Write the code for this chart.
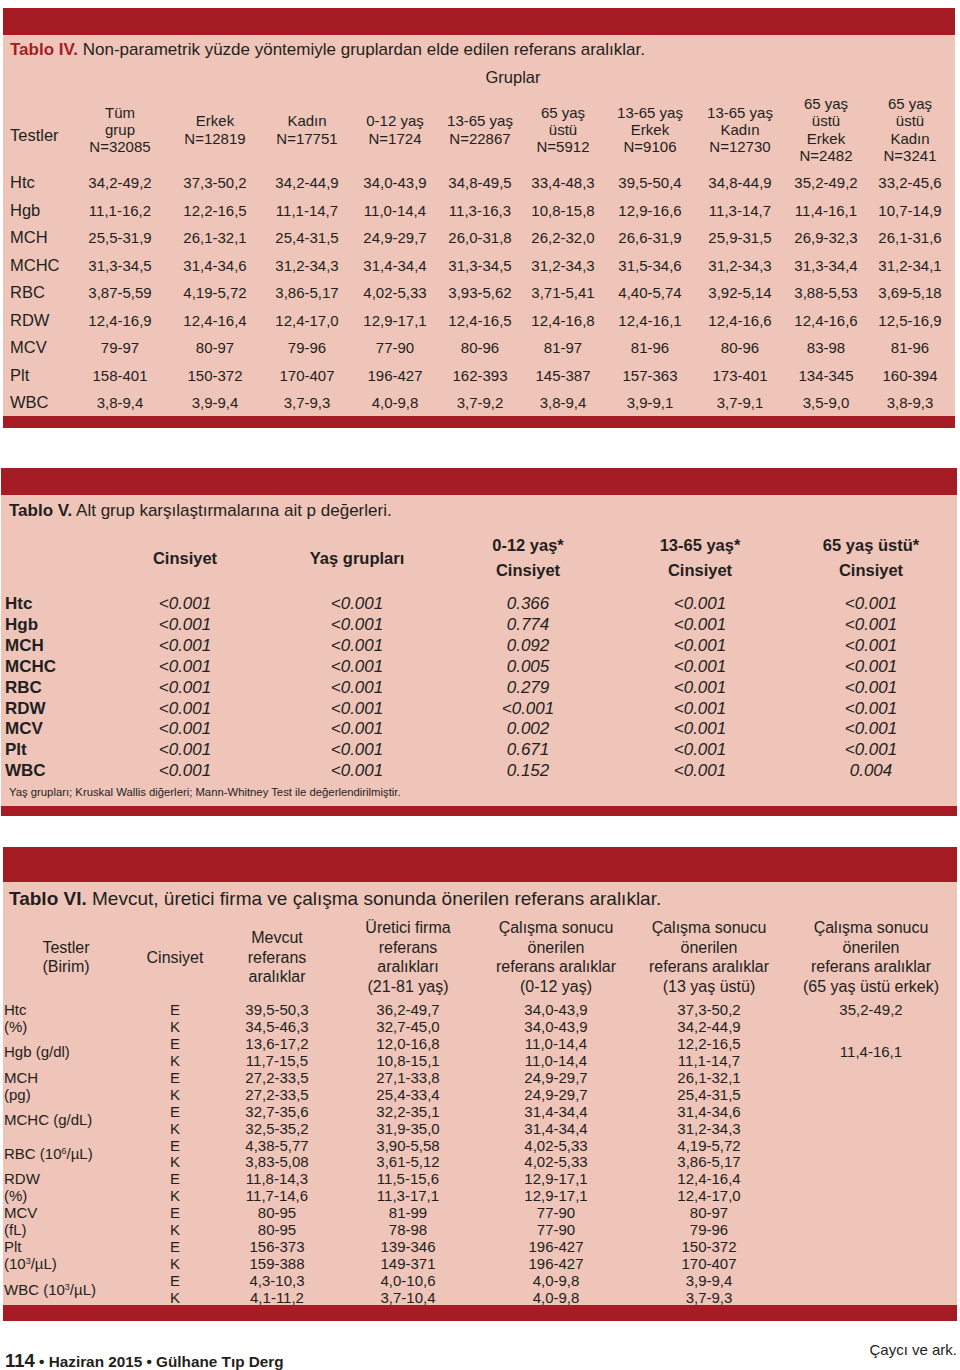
<!DOCTYPE html>
<html>
<head>
<meta charset="utf-8">
<script src="https://cdn.jsdelivr.net/npm/chart.js@4"></script>
<style>
  html, body { margin: 0; padding: 0; background: #fff; }
  body { width: 960px; height: 1370px; position: relative; overflow: hidden;
         font-family: "Liberation Sans", Arial, Helvetica, sans-serif; color: #231f20; }
  .box { position: absolute; }
  .red { background: #a61c24; }
  .pink { background: #efc5ba; }
  .t { position: absolute; white-space: nowrap; line-height: 1; }
  sup { font-size: 0.6em; vertical-align: 0.5em; line-height: 0; }
</style>
</head>
<body>
<script>
// ---- Tablo IV data ----
const testsIV = ['Htc', 'Hgb', 'MCH', 'MCHC', 'RBC', 'RDW', 'MCV', 'Plt', 'WBC'];
const groupHeadersIV = [
  ['Tüm', 'grup', 'N=32085'], ['Erkek', 'N=12819'], ['Kadın', 'N=17751'], ['0-12 yaş', 'N=1724'],
  ['13-65 yaş', 'N=22867'], ['65 yaş', 'üstü', 'N=5912'], ['13-65 yaş', 'Erkek', 'N=9106'],
  ['13-65 yaş', 'Kadın', 'N=12730'], ['65 yaş', 'üstü', 'Erkek', 'N=2482'], ['65 yaş', 'üstü', 'Kadın', 'N=3241']
];
const htcIV  = ['34,2-49,2', '37,3-50,2', '34,2-44,9', '34,0-43,9', '34,8-49,5', '33,4-48,3', '39,5-50,4', '34,8-44,9', '35,2-49,2', '33,2-45,6'];
const hgbIV  = ['11,1-16,2', '12,2-16,5', '11,1-14,7', '11,0-14,4', '11,3-16,3', '10,8-15,8', '12,9-16,6', '11,3-14,7', '11,4-16,1', '10,7-14,9'];
const mchIV  = ['25,5-31,9', '26,1-32,1', '25,4-31,5', '24,9-29,7', '26,0-31,8', '26,2-32,0', '26,6-31,9', '25,9-31,5', '26,9-32,3', '26,1-31,6'];
const mchcIV = ['31,3-34,5', '31,4-34,6', '31,2-34,3', '31,4-34,4', '31,3-34,5', '31,2-34,3', '31,5-34,6', '31,2-34,3', '31,3-34,4', '31,2-34,1'];
const rbcIV  = ['3,87-5,59', '4,19-5,72', '3,86-5,17', '4,02-5,33', '3,93-5,62', '3,71-5,41', '4,40-5,74', '3,92-5,14', '3,88-5,53', '3,69-5,18'];
const rdwIV  = ['12,4-16,9', '12,4-16,4', '12,4-17,0', '12,9-17,1', '12,4-16,5', '12,4-16,8', '12,4-16,1', '12,4-16,6', '12,4-16,6', '12,5-16,9'];
const mcvIV  = ['79-97', '80-97', '79-96', '77-90', '80-96', '81-97', '81-96', '80-96', '83-98', '81-96'];
const pltIV  = ['158-401', '150-372', '170-407', '196-427', '162-393', '145-387', '157-363', '173-401', '134-345', '160-394'];
const wbcIV  = ['3,8-9,4', '3,9-9,4', '3,7-9,3', '4,0-9,8', '3,7-9,2', '3,8-9,4', '3,9-9,1', '3,7-9,1', '3,5-9,0', '3,8-9,3'];
const rowsIV = [htcIV, hgbIV, mchIV, mchcIV, rbcIV, rdwIV, mcvIV, pltIV, wbcIV];

// ---- Tablo V data ----
const headersV = [['Cinsiyet'], ['Yaş grupları'], ['0-12 yaş*', 'Cinsiyet'], ['13-65 yaş*', 'Cinsiyet'], ['65 yaş üstü*', 'Cinsiyet']];
const pSex   = ['<0.001', '<0.001', '<0.001', '<0.001', '<0.001', '<0.001', '<0.001', '<0.001', '<0.001'];
const pAge   = ['<0.001', '<0.001', '<0.001', '<0.001', '<0.001', '<0.001', '<0.001', '<0.001', '<0.001'];
const p0to12 = ['0.366', '0.774', '0.092', '0.005', '0.279', '<0.001', '0.002', '0.671', '0.152'];
const p13to65 = ['<0.001', '<0.001', '<0.001', '<0.001', '<0.001', '<0.001', '<0.001', '<0.001', '<0.001'];
const p65up  = ['<0.001', '<0.001', '<0.001', '<0.001', '<0.001', '<0.001', '<0.001', '<0.001', '0.004'];
const colsV = [pSex, pAge, p0to12, p13to65, p65up];

// ---- Tablo VI data ----
const headersVI = [
  ['Testler', '(Birim)'], ['Cinsiyet'], ['Mevcut', 'referans', 'aralıklar'],
  ['Üretici firma', 'referans', 'aralıkları', '(21-81 yaş)'],
  ['Çalışma sonucu', 'önerilen', 'referans aralıklar', '(0-12 yaş)'],
  ['Çalışma sonucu', 'önerilen', 'referans aralıklar', '(13 yaş üstü)'],
  ['Çalışma sonucu', 'önerilen', 'referans aralıklar', '(65 yaş üstü erkek)']
];
// label text, row index (fractional = between two rows)
const labelsVI = [
  ['Htc', 0], ['(%)', 1], ['Hgb (g/dl)', 2.5], ['MCH', 4], ['(pg)', 5], ['MCHC (g/dL)', 6.5],
  ['RBC (10<sup>6</sup>/µL)', 8.5], ['RDW', 10], ['(%)', 11], ['MCV', 12], ['(fL)', 13],
  ['Plt', 14], ['(10<sup>3</sup>/µL)', 15], ['WBC (10<sup>3</sup>/µL)', 16.5]
];
const sexVI = ['E', 'K', 'E', 'K', 'E', 'K', 'E', 'K', 'E', 'K', 'E', 'K', 'E', 'K', 'E', 'K', 'E', 'K'];
const currentVI = ['39,5-50,3', '34,5-46,3', '13,6-17,2', '11,7-15,5', '27,2-33,5', '27,2-33,5', '32,7-35,6', '32,5-35,2', '4,38-5,77',
                   '3,83-5,08', '11,8-14,3', '11,7-14,6', '80-95', '80-95', '156-373', '159-388', '4,3-10,3', '4,1-11,2'];
const makerVI = ['36,2-49,7', '32,7-45,0', '12,0-16,8', '10,8-15,1', '27,1-33,8', '25,4-33,4', '32,2-35,1', '31,9-35,0', '3,90-5,58',
                 '3,61-5,12', '11,5-15,6', '11,3-17,1', '81-99', '78-98', '139-346', '149-371', '4,0-10,6', '3,7-10,4'];
const study0to12 = ['34,0-43,9', '34,0-43,9', '11,0-14,4', '11,0-14,4', '24,9-29,7', '24,9-29,7', '31,4-34,4', '31,4-34,4', '4,02-5,33',
                    '4,02-5,33', '12,9-17,1', '12,9-17,1', '77-90', '77-90', '196-427', '196-427', '4,0-9,8', '4,0-9,8'];
const study13up = ['37,3-50,2', '34,2-44,9', '12,2-16,5', '11,1-14,7', '26,1-32,1', '25,4-31,5', '31,4-34,6', '31,2-34,3', '4,19-5,72',
                   '3,86-5,17', '12,4-16,4', '12,4-17,0', '80-97', '79-96', '150-372', '170-407', '3,9-9,4', '3,7-9,3'];
const study65male = [['35,2-49,2', 0], ['11,4-16,1', 2.5]];

// ---- helpers ----
function box(cls, x, y, w, h) {
  const d = document.createElement('div');
  d.className = 'box ' + cls;
  Object.assign(d.style, { left: x + 'px', top: y + 'px', width: w + 'px', height: h + 'px' });
  document.body.appendChild(d);
}
function text(html, x, y, size, opts) {
  opts = opts || {};
  const s = document.createElement('div');
  s.className = 't';
  s.innerHTML = html;
  s.style.fontSize = size + 'px';
  s.style.left = x + 'px';
  s.style.top = y + 'px';
  if (opts.bold) s.style.fontWeight = 'bold';
  if (opts.italic) s.style.fontStyle = 'italic';
  if (opts.color) s.style.color = opts.color;
  const tx = opts.align === 'center' ? '-50%' : opts.align === 'right' ? '-100%' : '0';
  s.style.transform = 'translate(' + tx + ',-50%)';
  document.body.appendChild(s);
  return s;
}
function esc(s) { return s.replace(/</g, '&lt;'); }
function lines(arr, x, yCenter, lh, size, opts) {
  const top = yCenter - (arr.length - 1) * lh / 2;
  arr.forEach((l, i) => text(esc(l), x, top + i * lh, size, opts));
}

// ---- Tablo IV ----
box('red', 3, 8, 952, 27);
box('pink', 3, 35, 952, 381);
box('red', 3, 416, 952, 12);
text('<b style="color:#a61c24">Tablo IV.</b> Non-parametrik yüzde yöntemiyle gruplardan elde edilen referans aralıklar.', 10, 49, 17);
text('Gruplar', 513, 77, 16.5, { align: 'center' });
text('Testler', 10, 135, 16.5);
const colXIV = [120, 215, 307, 395, 480, 563, 650, 740, 826, 910];
groupHeadersIV.forEach((h, i) => lines(h, colXIV[i], 129, 17.3, 15, { align: 'center' }));
rowsIV.forEach((row, r) => {
  const y = 182 + r * 27.5;
  text(testsIV[r], 10, y, 16.5);
  row.forEach((v, c) => text(v, colXIV[c], y, 15, { align: 'center' }));
});

// ---- Tablo V ----
box('red', 1, 468, 956, 27);
box('pink', 1, 495, 956, 311);
box('red', 1, 806, 956, 10);
text('<b>Tablo V.</b> Alt grup karşılaştırmalarına ait p değerleri.', 9, 510, 17);
const colXV = [185, 357, 528, 700, 871];
headersV.forEach((h, i) => lines(h, colXV[i], 557.5, 25, 16.5, { align: 'center', bold: true }));
testsIV.forEach((t, r) => {
  const y = 603 + r * 20.9;
  text(t, 5, y, 17, { bold: true });
  colsV.forEach((col, c) => text(esc(col[r]), colXV[c], y, 17, { align: 'center', italic: true }));
});
text('Yaş grupları; Kruskal Wallis diğerleri; Mann-Whitney Test ile değerlendirilmiştir.', 9, 793, 11.3);

// ---- Tablo VI ----
box('red', 3, 847, 954, 35);
box('pink', 3, 882, 954, 423);
box('red', 3, 1305, 954, 16);
text('<b>Tablo VI.</b> Mevcut, üretici firma ve çalışma sonunda önerilen referans aralıklar.', 9, 898, 19);
const colXVI = [66, 175, 277, 408, 556, 709, 871];
headersVI.forEach((h, i) => lines(h, colXVI[i], 957.5, 19.6, 16, { align: 'center' }));
const rowY = i => 1009 + i * 16.94;
labelsVI.forEach(([l, i]) => text(l, 4, rowY(i), 15));
[sexVI, currentVI, makerVI, study0to12, study13up].forEach((col, c) => {
  col.forEach((v, r) => text(v, colXVI[c + 1], rowY(r), 15, { align: 'center' }));
});
study65male.forEach(([v, i]) => text(v, colXVI[6], rowY(i), 15, { align: 'center' }));

// ---- footer ----
text('<b><span style="font-size:18.5px">114</span> • Haziran 2015 • Gülhane Tıp Derg</b>', 5, 1361, 15.3);
text('Çaycı ve ark.', 957, 1349, 15, { align: 'right' });
</script>
</body>
</html>
